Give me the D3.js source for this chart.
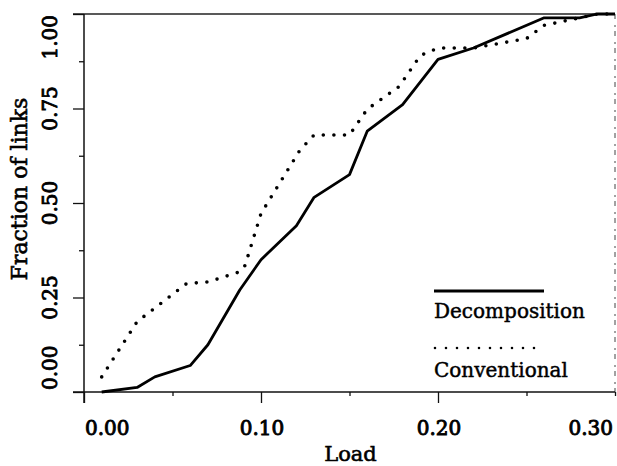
<!DOCTYPE html>
<html>
<head>
<meta charset="utf-8">
<script src="https://cdn.jsdelivr.net/npm/d3@7"></script>
<style>
  body { margin: 0; background: #fff; }
  text { font-family: "DejaVu Serif", serif; fill: #000; }
</style>
</head>
<body>
<div id="plot"></div>
<script>
// Values
var decompLoad = [0.01, 0.03, 0.04, 0.06, 0.07, 0.088, 0.10, 0.12, 0.13, 0.15, 0.16, 0.18, 0.20, 0.22, 0.26, 0.28, 0.29, 0.30];
var decompFrac = [0.00, 0.012, 0.04, 0.07, 0.125, 0.27, 0.35, 0.44, 0.515, 0.575, 0.69, 0.76, 0.88, 0.91, 0.99, 0.99, 1.00, 1.00];

var convLoad = [0.01, 0.03, 0.058, 0.07, 0.088, 0.091, 0.10, 0.122, 0.13, 0.15, 0.16, 0.178, 0.19, 0.20, 0.22, 0.25, 0.26, 0.28, 0.29, 0.30];
var convFrac = [0.04, 0.186, 0.287, 0.291, 0.318, 0.335, 0.472, 0.64, 0.68, 0.68, 0.748, 0.808, 0.89, 0.91, 0.91, 0.935, 0.97, 0.99, 1.00, 1.00];

var xTicks = [0, 0.1, 0.2, 0.3];
var xMinor = [0.05, 0.15, 0.25];
var yTicks = [0, 0.25, 0.5, 0.75, 1];
var yMinor = [0.125, 0.375, 0.625, 0.875];
var seriesNames = ["Decomposition", "Conventional"];

var margin = {top: 14, right: 2, bottom: 74, left: 84},
    width = 617 - margin.left - margin.right,
    height = 466 - margin.top - margin.bottom;

var svg = d3.select("#plot").append("svg")
    .attr("width", 617)
    .attr("height", 466)
  .append("g")
    .attr("transform", "translate(" + margin.left + "," + margin.top + ")");

var x = d3.scaleLinear().domain([0, 0.3]).range([0, width]);
var y = d3.scaleLinear().domain([0, 1]).range([height, 0]);

// frame: top and right sides
svg.append("line")
    .attr("x1", -11).attr("x2", width).attr("y1", 0).attr("y2", 0)
    .attr("stroke", "#222").attr("stroke-width", 1.6);
svg.append("line")
    .attr("x1", width).attr("x2", width).attr("y1", 0).attr("y2", height)
    .attr("stroke", "#444").attr("stroke-width", 1)
    .attr("stroke-dasharray", "5 6 2 4");

// bottom axis
svg.append("g")
    .attr("transform", "translate(0," + height + ")")
    .call(d3.axisBottom(x).tickValues(xTicks.slice(0, 3)).tickSize(11).tickFormat(""));
svg.append("g")
    .attr("transform", "translate(0," + height + ")")
    .call(d3.axisBottom(x).tickValues(xMinor.concat([0.3])).tickSize(4).tickFormat(""));

// left axis
svg.append("g")
    .call(d3.axisLeft(y).tickValues(yTicks).tickSize(11).tickFormat(""));
svg.append("g")
    .call(d3.axisLeft(y).tickValues(yMinor).tickSize(5).tickFormat(""));

svg.selectAll(".domain").remove();
svg.selectAll(".tick line").attr("stroke", "#111").attr("stroke-width", 1.3);

// axis lines, extended past the corner like the original
svg.append("line")
    .attr("x1", -11).attr("x2", width).attr("y1", height).attr("y2", height)
    .attr("stroke", "#111").attr("stroke-width", 1.5);
svg.append("line")
    .attr("x1", 0).attr("x2", 0).attr("y1", 0).attr("y2", height + 11)
    .attr("stroke", "#111").attr("stroke-width", 1.5);

// tick labels (edge labels pulled inside)
svg.selectAll(".xlab")
  .data(xTicks)
  .enter().append("text")
    .attr("class", "xlab")
    .attr("x", function(d) { return x(d); })
    .attr("y", height + 43)
    .attr("text-anchor", function(d, i) { return i === 0 ? "start" : (i === xTicks.length - 1 ? "end" : "middle"); })
    .attr("dx", function(d, i) { return i === xTicks.length - 1 ? -2 : 1; })
    .style("font-size", "20px")
    .attr("stroke", "#000").attr("stroke-width", 0.9)
    .text(function(d) { return d.toFixed(2); });

svg.selectAll(".ylab")
  .data(yTicks)
  .enter().append("text")
    .attr("class", "ylab")
    .attr("transform", function(d) { return "translate(-27," + y(d) + ") rotate(-90)"; })
    .attr("text-anchor", function(d, i) { return i === 0 ? "start" : (i === yTicks.length - 1 ? "end" : "middle"); })
    .attr("dx", function(d, i) { return i === 0 ? 2 : (i === yTicks.length - 1 ? -1 : 0); })
    .style("font-size", "20px")
    .attr("stroke", "#000").attr("stroke-width", 0.9)
    .text(function(d) { return d.toFixed(2); });

// axis titles
svg.append("text")
    .attr("x", width / 2 + 1)
    .attr("y", height + 69)
    .attr("text-anchor", "middle")
    .style("font-size", "21px")
    .attr("stroke", "#000").attr("stroke-width", 0.6)
    .text("Load");

svg.append("text")
    .attr("transform", "translate(-57," + (height / 2 - 14) + ") rotate(-90)")
    .attr("text-anchor", "middle")
    .style("font-size", "22px")
    .attr("stroke", "#000").attr("stroke-width", 0.6)
    .text("Fraction of links");

// the two curves
var line = d3.line()
    .x(function(d) { return x(d[0]); })
    .y(function(d) { return y(d[1]); });

var decomp = d3.zip(decompLoad, decompFrac);
var conv = d3.zip(convLoad, convFrac);

svg.append("path")
    .datum(decomp)
    .attr("d", line)
    .attr("fill", "none")
    .attr("stroke", "#000")
    .attr("stroke-width", 2.8)
    .attr("stroke-linejoin", "round");

svg.append("path")
    .datum(conv)
    .attr("d", line)
    .attr("fill", "none")
    .attr("stroke", "#000")
    .attr("stroke-width", 3.6)
    .attr("stroke-linecap", "round")
    .attr("stroke-dasharray", "0 10.6");

// legend
var legend = svg.append("g")
    .attr("transform", "translate(" + (434 - margin.left) + "," + (291 - margin.top) + ")");

legend.append("line")
    .attr("x1", 0).attr("x2", 110).attr("y1", 0).attr("y2", 0)
    .attr("stroke", "#000").attr("stroke-width", 2.8);
legend.append("text")
    .attr("x", 0).attr("y", 27)
    .style("font-size", "20px")
    .attr("stroke", "#000").attr("stroke-width", 0.45)
    .text(seriesNames[0]);

legend.append("line")
    .attr("x1", 1).attr("x2", 111).attr("y1", 57).attr("y2", 57)
    .attr("stroke", "#000").attr("stroke-width", 2.6)
    .attr("stroke-linecap", "round")
    .attr("stroke-dasharray", "0 11");
legend.append("text")
    .attr("x", 0).attr("y", 86)
    .style("font-size", "20px")
    .attr("stroke", "#000").attr("stroke-width", 0.45)
    .text(seriesNames[1]);
</script>
</body>
</html>
